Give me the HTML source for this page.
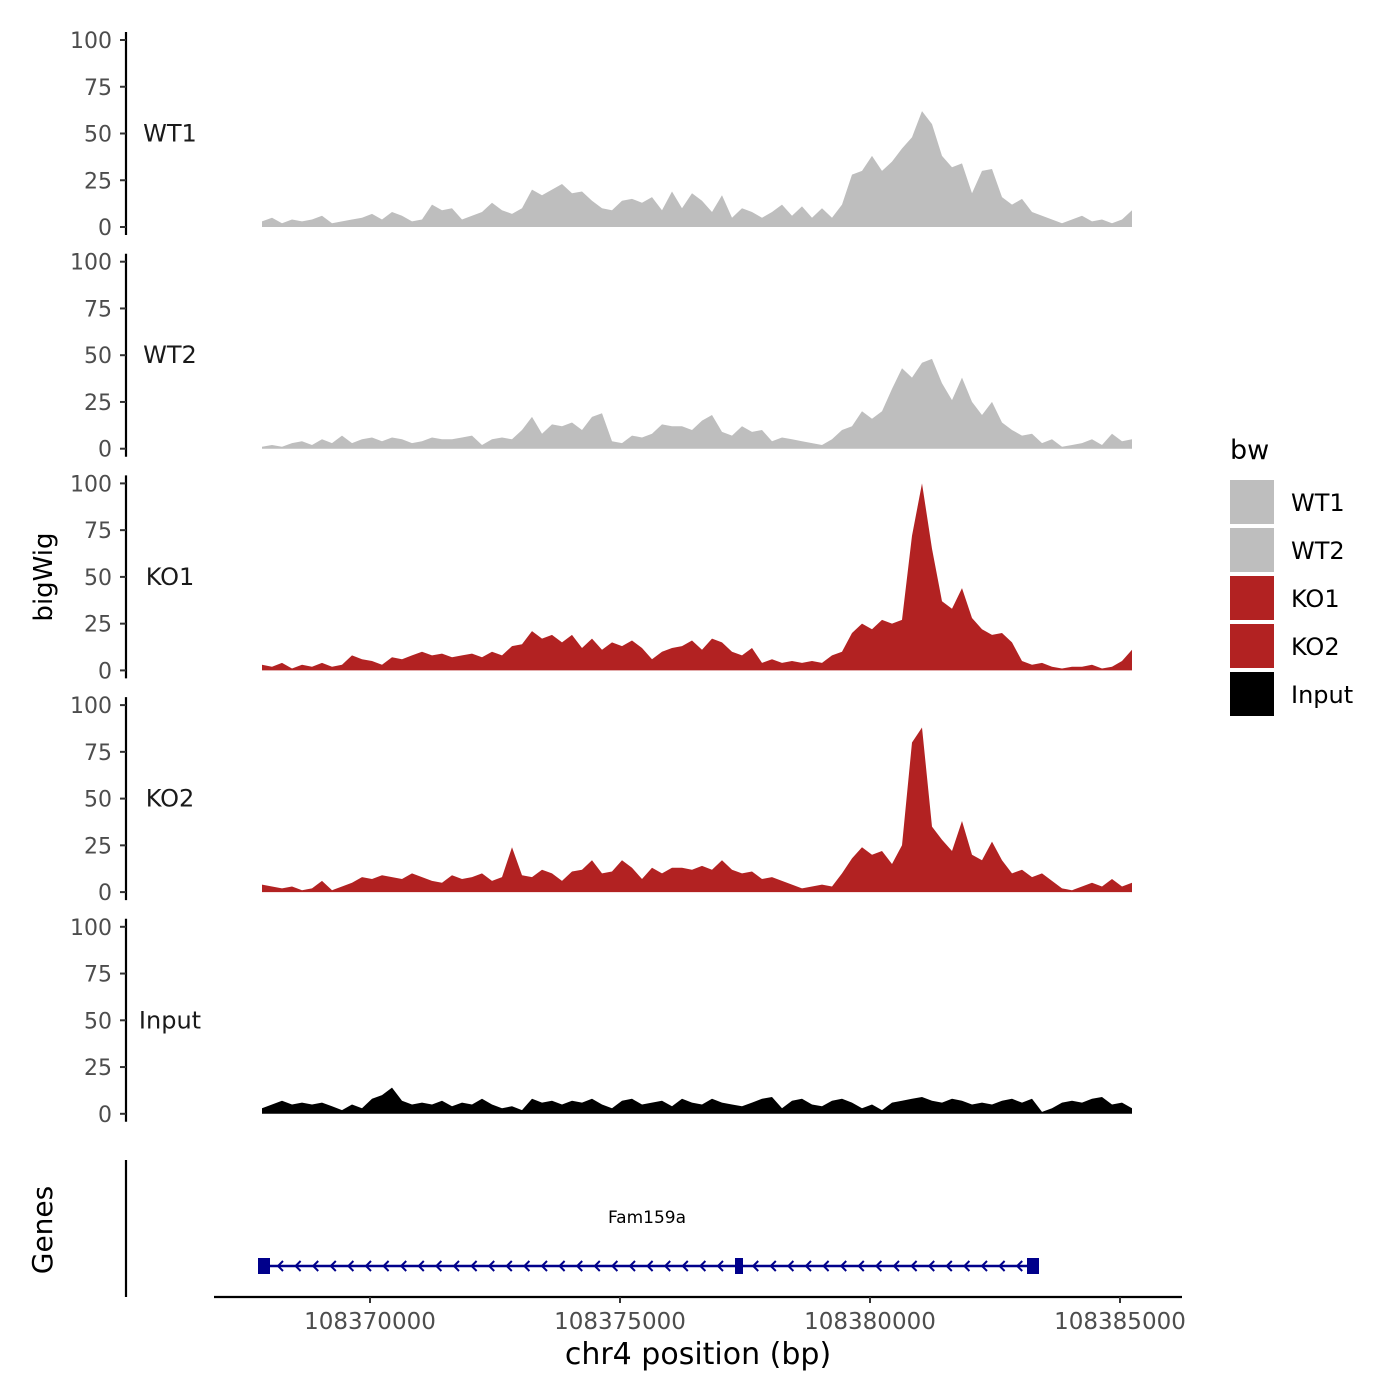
<!DOCTYPE html>
<html><head><meta charset="utf-8">
<style>
html,body{margin:0;padding:0;background:#fff;}
svg{display:block;font-family:"DejaVu Sans","Liberation Sans",sans-serif;}
</style></head>
<body>
<svg id="chart" width="1400" height="1400" viewBox="0 0 1400 1400">
<rect width="1400" height="1400" fill="#fff"/>
<text x="52" y="577" font-size="26" text-anchor="middle" transform="rotate(-90 52 577)" fill="#000">bigWig</text>
<text x="52" y="1230" font-size="28" text-anchor="middle" transform="rotate(-90 52 1230)" fill="#000">Genes</text>
<line x1="126" y1="1160" x2="126" y2="1297" stroke="#000" stroke-width="2.2"/>
<line x1="214" y1="1297" x2="1182" y2="1297" stroke="#000" stroke-width="2.2"/>
<text x="698" y="1364" font-size="30" text-anchor="middle" fill="#000">chr4 position (bp)</text>
<text x="647" y="1223" font-size="17" text-anchor="middle" fill="#000">Fam159a</text>
<text x="1230" y="459" font-size="27" fill="#000">bw</text>
</svg>
<script>
const samples = ["WT1","WT2","KO1","KO2","Input"];
const sampleColors = ["#bebebe","#bebebe","#b22222","#b22222","#000000"];
const yTicks = [0,25,50,75,100];
const xTicks = [108370000,108375000,108380000,108385000];
const startPos = 108367840;
const stepBp = 200;
const geneStart = 108367880;
const geneEnd = 108383260;
const exonPositions = [108367880,108377380,108383260];
const wt1 = [3,5,2,4,3,4,6,2,3,4,5,7,4,8,6,3,4,12,9,10,4,6,8,13,9,7,10,20,17,20,23,18,19,14,10,9,14,15,13,16,9,19,10,18,14,8,17,5,10,8,5,8,12,6,11,5,10,5,12,28,30,38,30,35,42,48,62,55,38,32,34,18,30,31,16,12,15,8,6,4,2,4,6,3,4,2,4,9];
const wt2 = [1,2,1,3,4,2,5,3,7,3,5,6,4,6,5,3,4,6,5,5,6,7,2,5,6,5,10,17,8,13,12,14,10,17,19,4,3,7,6,8,13,12,12,10,15,18,9,7,12,9,10,4,6,5,4,3,2,5,10,12,20,16,20,32,43,38,46,48,35,26,38,25,18,25,14,10,7,8,3,5,1,2,3,5,2,8,4,5];
const ko1 = [3,2,4,1,3,2,4,2,3,8,6,5,3,7,6,8,10,8,9,7,8,9,7,10,8,13,14,21,17,19,15,19,12,17,11,15,13,16,12,6,10,12,13,16,11,17,15,10,8,12,4,6,4,5,4,5,4,8,10,20,25,22,27,25,27,72,100,65,37,33,44,28,22,19,20,15,5,3,4,2,1,2,2,3,1,2,5,11];
const ko2 = [4,3,2,3,1,2,6,1,3,5,8,7,9,8,7,10,8,6,5,9,7,8,10,6,8,24,9,8,12,10,6,11,12,17,10,11,17,13,7,13,10,13,13,12,14,12,17,12,10,11,7,8,6,4,2,3,4,3,10,18,24,20,22,15,25,80,88,35,28,22,38,20,17,27,17,10,12,8,10,6,2,1,3,5,3,7,3,5];
const inputVals = [3,5,7,5,6,5,6,4,2,5,3,8,10,14,7,5,6,5,7,4,6,5,8,5,3,4,2,8,6,7,5,7,6,8,5,3,7,8,5,6,7,4,8,6,5,8,6,5,4,6,8,9,3,7,8,5,4,7,8,6,3,5,2,6,7,8,9,7,6,8,7,5,6,5,7,8,6,8,1,3,6,7,6,8,9,5,6,3];
const seriesData = [wt1,wt2,ko1,ko2,inputVals];

const NS="http://www.w3.org/2000/svg";
const svg=document.getElementById('chart');
function mk(tag,attrs,parent){const e=document.createElementNS(NS,tag);for(const k in attrs)e.setAttribute(k,attrs[k]);(parent||svg).appendChild(e);return e;}
function xScale(g){return 370+(g-108370000)*250/5000;}
function panelBase(i){return 227+i*221.7;}
function yScale(i,v){return panelBase(i)-v*1.87;}

samples.forEach((s,i)=>{
  const g=mk('g',{});
  
  
  const ax=mk('line',{x1:126,x2:126,y1:yScale(i,100)-8,y2:panelBase(i)+8,stroke:'#000','stroke-width':2.2},g);
  
  
  yTicks.forEach(t=>{
    const y=yScale(i,t);
    const tk=mk('line',{x1:120,x2:126,y1:y,y2:y,stroke:'#333','stroke-width':2},g);
    
    
    const tl=mk('text',{x:112,y:y+8,'font-size':22,'text-anchor':'end',fill:'#4d4d4d'},g);
    tl.textContent=t;
    
    
  });
  const lb=mk('text',{x:170,y:yScale(i,50)+8,'font-size':24,'text-anchor':'middle',fill:'#1a1a1a'},g);
  lb.textContent=s;
  
  
  const vals=seriesData[i];
  const base=panelBase(i);
  let d='M'+xScale(startPos)+','+base;
  vals.forEach((v,j)=>{d+=' L'+xScale(startPos+j*stepBp).toFixed(1)+','+yScale(i,v).toFixed(1);});
  d+=' L'+xScale(startPos+(vals.length-1)*stepBp).toFixed(1)+','+base+' Z';
  const ar=mk('path',{d:d,fill:sampleColors[i]},g);
  
  
});

xTicks.forEach(t=>{
  const x=xScale(t);
  const tk=mk('line',{x1:x,x2:x,y1:1297,y2:1303,stroke:'#333','stroke-width':2});
  
  
  const tl=mk('text',{x:x,y:1329,'font-size':23,'text-anchor':'middle',fill:'#4d4d4d'});
  tl.textContent=t;
  
  
});

const gy=1266;
const gl=mk('line',{x1:xScale(geneStart),x2:xScale(geneEnd),y1:gy,y2:gy,stroke:'#00008b','stroke-width':2.5});


for(let x=xScale(geneStart)+14;x<xScale(geneEnd)-6;x+=17.6){
  const ar=mk('path',{d:`M${x+5},${gy-5} L${x},${gy} L${x+5},${gy+5}`,stroke:'#00008b','stroke-width':2,fill:'none'});
  
  
}
exonPositions.forEach((p,k)=>{
  const w=k==1?8:12;
  const ex=mk('rect',{x:xScale(p)-w/2,y:gy-8,width:w,height:16,fill:'#00008b'});
  
  
});

samples.forEach((s,i)=>{
  const y=480+i*48;
  const r=mk('rect',{x:1230,y:y,width:44,height:44,fill:sampleColors[i]});
  
  
  const t=mk('text',{x:1291,y:y+31,'font-size':24,fill:'#000'});
  t.textContent=s;
  
  
});
</script>
</body></html>
